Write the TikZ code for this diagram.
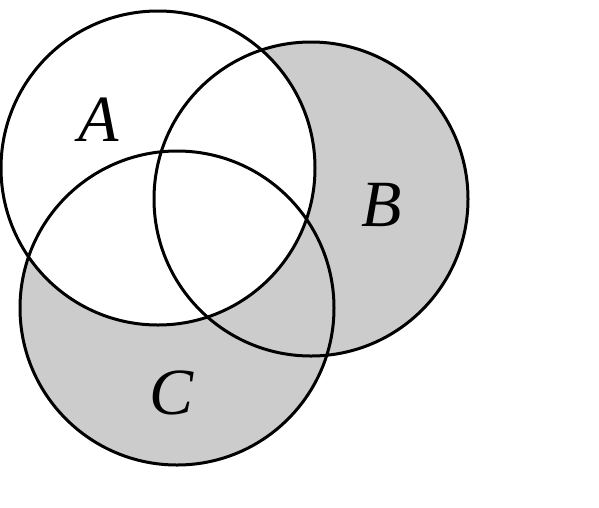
\documentclass[tikz,border=0pt]{standalone}
\usepackage{fontspec}
\setmainfont{Liberation Serif}
\begin{document}
\begin{tikzpicture}[x=1pt,y=-1pt,
  ring/.style={draw=black,line width=3pt},
  lbl/.style={font=\fontsize{66}{66}\selectfont\itshape,inner sep=0pt}]
\useasboundingbox (0,0) rectangle (599,507);
\fill[white] (0,0) rectangle (599,507);
\coordinate (ca) at (158,168);
\coordinate (cb) at (311,199);
\coordinate (cc) at (177,308);
\fill[gray!40] (cb) circle (157);
\fill[gray!40] (cc) circle (157);
\fill[white] (ca) circle (157);
\draw[ring] (ca) circle (157);
\draw[ring] (cb) circle (157);
\draw[ring] (cc) circle (157);
\node[lbl] (a) at (99,120) {A};
\node[lbl] (b) at (382,205) {B};
\node[lbl] (c) at (172,393) {C};
\end{tikzpicture}
\end{document}
